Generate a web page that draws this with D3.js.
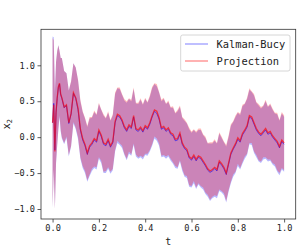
<!DOCTYPE html>
<html>
<head>
<meta charset="utf-8">
<script src="https://cdn.jsdelivr.net/npm/d3@7"></script>
<style>
  html, body { margin: 0; padding: 0; background: #fff; }
  svg { display: block; font-family: 'DejaVu Sans Mono', monospace; }
</style>
</head>
<body>
<div id="chart"></div>
<script>
// time grid
const tValues = [0, 0.005, 0.01, 0.015, 0.02, 0.025, 0.03, 0.035,
  0.04, 0.05, 0.06, 0.07, 0.08, 0.09, 0.10, 0.11, 0.12, 0.13, 0.14, 0.15, 0.16, 0.17, 0.18, 0.19,
  0.20, 0.21, 0.22, 0.23, 0.24, 0.25, 0.26, 0.27, 0.28, 0.29, 0.30, 0.31, 0.32, 0.33, 0.34, 0.35,
  0.36, 0.37, 0.38, 0.39, 0.40, 0.41, 0.42, 0.43, 0.44, 0.45, 0.46, 0.47, 0.48, 0.49, 0.50, 0.51,
  0.52, 0.53, 0.54, 0.55, 0.56, 0.57, 0.58, 0.59, 0.60, 0.61, 0.62, 0.63, 0.64, 0.65, 0.66, 0.67,
  0.68, 0.69, 0.70, 0.71, 0.72, 0.73, 0.74, 0.75, 0.76, 0.77, 0.78, 0.79, 0.80, 0.81, 0.82, 0.83,
  0.84, 0.85, 0.86, 0.87, 0.88, 0.89, 0.90, 0.91, 0.92, 0.93, 0.94, 0.95, 0.96, 0.97, 0.98, 0.99, 1.00]

const projMean = [0.20, 0.45, -0.20, 0.35, 0.55, 0.70, 0.75, 0.60,
  0.55, 0.42, 0.45, 0.20, 0.33, 0.62, 0.55, 0.40, 0.12, -0.02, -0.10, -0.22, -0.12, -0.08, -0.02, -0.05,
  0.10, 0.03, -0.08, -0.10, -0.03, -0.12, -0.06, 0.22, 0.32, 0.30, 0.24, 0.15, 0.10, 0.17, 0.14, 0.30,
  0.12, 0.10, 0.14, 0.09, 0.16, 0.13, 0.20, 0.30, 0.38, 0.36, 0.27, 0.13, 0.15, 0.10, 0.13, 0.06,
  0.04, -0.03, -0.02, 0.06, -0.08, -0.14, -0.17, -0.27, -0.30, -0.25, -0.31, -0.26, -0.28, -0.33, -0.38, -0.44,
  -0.47, -0.45, -0.42, -0.45, -0.33, -0.37, -0.42, -0.50, -0.36, -0.22, -0.15, -0.09, -0.01, -0.05, 0.05, 0.10,
  0.16, 0.30, 0.28, 0.20, 0.12, 0.07, 0.04, 0.08, 0.12, 0.06, 0.08, 0.02, -0.02, -0.06, -0.13, -0.04, -0.08]

const kbMean = [0.20, 0.47, -0.18, 0.34, 0.54, 0.69, 0.74, 0.59,
  0.54, 0.41, 0.44, 0.19, 0.32, 0.61, 0.54, 0.38, 0.10, -0.04, -0.12, -0.24, -0.14, -0.10, -0.04, -0.07,
  0.08, 0.01, -0.10, -0.12, -0.05, -0.14, -0.08, 0.20, 0.30, 0.28, 0.22, 0.13, 0.08, 0.15, 0.12, 0.28,
  0.10, 0.08, 0.12, 0.07, 0.14, 0.11, 0.18, 0.28, 0.36, 0.33, 0.25, 0.11, 0.13, 0.08, 0.11, 0.04,
  0.02, -0.05, -0.04, 0.04, -0.10, -0.16, -0.19, -0.29, -0.32, -0.27, -0.33, -0.28, -0.30, -0.35, -0.40, -0.46,
  -0.49, -0.47, -0.44, -0.47, -0.35, -0.39, -0.44, -0.52, -0.38, -0.24, -0.17, -0.11, -0.03, -0.07, 0.03, 0.08,
  0.14, 0.28, 0.26, 0.18, 0.10, 0.05, 0.02, 0.06, 0.10, 0.04, 0.06, 0.00, -0.04, -0.08, -0.15, -0.06, -0.10]

// half-width of the shaded band around each mean
const projHalf = [1.18, 0.90, 0.80, 0.70, 0.65, 0.58, 0.45, 0.50,
  0.55, 0.50, 0.44, 0.45, 0.45, 0.41, 0.42, 0.40, 0.40, 0.38, 0.37, 0.38, 0.40, 0.36, 0.39, 0.37,
  0.38, 0.36, 0.40, 0.37, 0.39, 0.36, 0.38, 0.40, 0.37, 0.39, 0.36, 0.38, 0.40, 0.37, 0.38, 0.39,
  0.36, 0.38, 0.40, 0.37, 0.39, 0.36, 0.38, 0.40, 0.37, 0.38, 0.36, 0.39, 0.40, 0.37, 0.38, 0.36,
  0.39, 0.37, 0.40, 0.38, 0.36, 0.39, 0.37, 0.40, 0.38, 0.36, 0.39, 0.38, 0.40, 0.37, 0.39, 0.36,
  0.40, 0.38, 0.39, 0.37, 0.40, 0.38, 0.36, 0.39, 0.38, 0.40, 0.37, 0.39, 0.36, 0.38, 0.40, 0.37,
  0.39, 0.38, 0.36, 0.40, 0.37, 0.39, 0.38, 0.36, 0.40, 0.37, 0.39, 0.38, 0.36, 0.40, 0.37, 0.39, 0.38]

const kbHalf = [1.20, 0.92, 0.82, 0.71, 0.66, 0.59, 0.46, 0.51,
  0.56, 0.51, 0.45, 0.46, 0.45, 0.42, 0.43, 0.41, 0.40, 0.39, 0.38, 0.38, 0.40, 0.37, 0.39, 0.38,
  0.38, 0.37, 0.40, 0.38, 0.39, 0.37, 0.38, 0.40, 0.38, 0.39, 0.37, 0.38, 0.40, 0.38, 0.38, 0.39,
  0.37, 0.38, 0.40, 0.38, 0.39, 0.37, 0.38, 0.40, 0.38, 0.38, 0.37, 0.39, 0.40, 0.38, 0.38, 0.37,
  0.39, 0.38, 0.40, 0.38, 0.37, 0.39, 0.38, 0.40, 0.38, 0.37, 0.39, 0.38, 0.40, 0.38, 0.39, 0.37,
  0.40, 0.38, 0.39, 0.38, 0.40, 0.38, 0.37, 0.39, 0.38, 0.40, 0.38, 0.39, 0.37, 0.38, 0.40, 0.38,
  0.39, 0.38, 0.37, 0.40, 0.38, 0.39, 0.38, 0.37, 0.40, 0.38, 0.39, 0.38, 0.37, 0.40, 0.38, 0.39, 0.38]

const xTicks = [0, 0.2, 0.4, 0.6, 0.8, 1.0]
const yTicks = [-1.0, -0.5, 0.0, 0.5, 1.0]
const seriesNames = ['Kalman-Bucy', 'Projection']

const dims = {
  width: 299,
  height: 247,
  left: 41,
  right: 295.7,
  top: 29.3,
  bottom: 219
}

const svg = d3.select('#chart')
  .append('svg')
  .attr('width', dims.width)
  .attr('height', dims.height)

const xScale = d3.scaleLinear().domain([-0.05, 1.05]).range([dims.left, dims.right])
const yScale = d3.scaleLinear().domain([-1.139, 1.501]).range([dims.bottom, dims.top])

svg.append('clipPath').attr('id', 'plotclip')
  .append('rect')
  .attr('x', dims.left).attr('y', dims.top)
  .attr('width', dims.right - dims.left).attr('height', dims.bottom - dims.top)

const plot = svg.append('g').attr('clip-path', 'url(#plotclip)')

const rows = tValues.map((t, i) => ({
  t,
  kb: kbMean[i], kbH: kbHalf[i],
  pr: projMean[i], prH: projHalf[i]
}))

function band(mean, half) {
  return d3.area()
    .x(d => xScale(d.t))
    .y0(d => yScale(d[mean] - d[half]))
    .y1(d => yScale(d[mean] + d[half]))
}

function line(mean) {
  return d3.line()
    .x(d => xScale(d.t))
    .y(d => yScale(d[mean]))
}

plot.append('path').datum(rows)
  .attr('d', band('kb', 'kbH'))
  .attr('fill', 'blue').attr('fill-opacity', 0.28)

plot.append('path').datum(rows)
  .attr('d', band('pr', 'prH'))
  .attr('fill', 'red').attr('fill-opacity', 0.28)

plot.append('path').datum(rows)
  .attr('d', line('kb'))
  .attr('fill', 'none').attr('stroke', 'blue').attr('stroke-opacity', 0.55).attr('stroke-width', 1)

plot.append('path').datum(rows)
  .attr('d', line('pr'))
  .attr('fill', 'none').attr('stroke', 'red').attr('stroke-opacity', 0.65).attr('stroke-width', 1.3)

// axes
const xAxis = d3.axisBottom(xScale)
  .tickValues(xTicks)
  .tickSize(3.5)
  .tickPadding(2.5)
  .tickSizeOuter(0)
  .tickFormat(d3.format('.1f'))

const yAxis = d3.axisLeft(yScale)
  .tickValues(yTicks)
  .tickSize(3.5)
  .tickPadding(2.5)
  .tickSizeOuter(0)
  .tickFormat(d3.format('.1f'))

const xg = svg.append('g')
  .attr('transform', `translate(0, ${dims.bottom})`)
  .call(xAxis)
xg.select('.domain').remove()

const yg = svg.append('g')
  .attr('transform', `translate(${dims.left}, 0)`)
  .call(yAxis)
yg.select('.domain').remove()

svg.selectAll('.tick line').attr('stroke', '#333').attr('stroke-width', 0.8)
svg.selectAll('.tick text')
  .attr('fill', '#222')
  .style('font-family', "'DejaVu Sans Mono', monospace")
  .style('font-size', '8.6px')
yg.selectAll('.tick text').text(d => d3.format('.1f')(d).replace('-', '\u2212'))

// frame
svg.append('rect')
  .attr('x', dims.left).attr('y', dims.top)
  .attr('width', dims.right - dims.left).attr('height', dims.bottom - dims.top)
  .attr('fill', 'none').attr('stroke', '#333').attr('stroke-width', 0.8)

// axis labels
svg.append('text')
  .attr('x', (dims.left + dims.right) / 2)
  .attr('y', 244.5)
  .attr('text-anchor', 'middle')
  .attr('fill', '#222')
  .style('font-size', '10px')
  .text('t')

const ylab = svg.append('text')
  .attr('transform', `translate(9.5, ${(dims.top + dims.bottom) / 2}) rotate(-90)`)
  .attr('text-anchor', 'middle')
  .attr('fill', '#222')
  .style('font-size', '10px')
ylab.append('tspan').text('x')
ylab.append('tspan').attr('dy', 2.5).style('font-size', '7px').text('2')

// legend
const legend = svg.append('g')
legend.append('rect')
  .attr('x', 180.7).attr('y', 35)
  .attr('width', 109.3).attr('height', 36)
  .attr('rx', 2)
  .attr('fill', 'white').attr('fill-opacity', 0.8)
  .attr('stroke', '#cccccc').attr('stroke-width', 0.8)

const legendStyle = [
  { color: 'blue', opacity: 0.5, width: 1 },
  { color: 'red', opacity: 0.3, width: 2 }
]

seriesNames.forEach((name, i) => {
  const y = 44 + i * 17
  legend.append('line')
    .attr('x1', 185).attr('x2', 208)
    .attr('y1', y).attr('y2', y)
    .attr('stroke', legendStyle[i].color)
    .attr('stroke-opacity', legendStyle[i].opacity)
    .attr('stroke-width', legendStyle[i].width)
  legend.append('text')
    .attr('x', 216.5).attr('y', y + 3.7)
    .attr('fill', '#222')
    .style('font-size', '10.4px')
    .text(name)
})
</script>
</body>
</html>
